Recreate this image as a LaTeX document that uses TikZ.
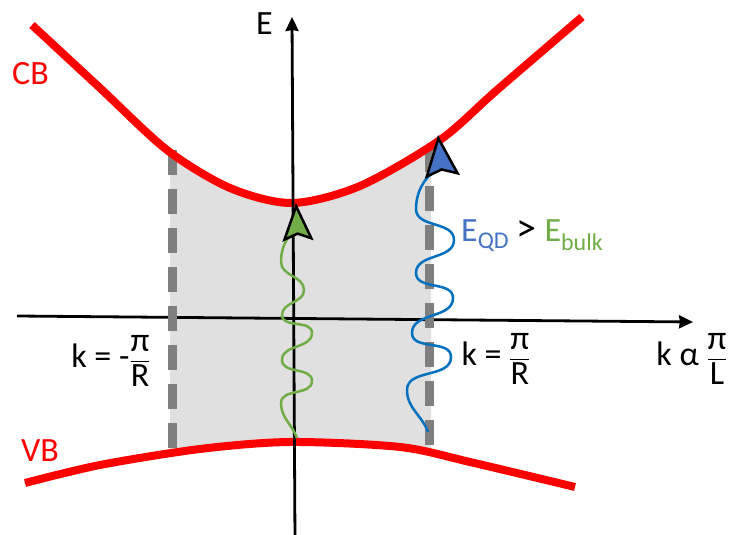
\documentclass[tikz,border=0pt]{standalone}
\usepackage{amsmath}
\usepackage{fontspec}
\setmainfont{Carlito}
\usetikzlibrary{arrows.meta}
\definecolor{bandred}{HTML}{FF0000}
\definecolor{qdblue}{HTML}{4472C4}
\definecolor{waveblue}{HTML}{0070C0}
\definecolor{qdgreen}{HTML}{70AD47}
\definecolor{edgegray}{HTML}{7F7F7F}
\tikzset{
  band/.style={draw=bandred, line width=8pt},
  axisline/.style={-{Stealth[length=14pt, width=13pt, inset=1pt]}, line width=2.8pt},
  kedge/.style={draw=edgegray, line width=9pt, dash pattern=on 25pt off 14pt},
  lbl/.style={font=\fontsize{34}{40}\selectfont, inner sep=0pt},
}

\begin{document}
\begin{tikzpicture}[
  x=1pt, y=1pt,
  photon/.style={line width=2.5pt},
  greentip/.style={-{Stealth[length=38pt, width=31pt, inset=6pt, color=black, fill=qdgreen, line width=2.5pt]}},
  bluetip/.style={-{Stealth[length=42pt, width=35pt, inset=6pt, color=black, fill=qdblue, line width=2.5pt]}}]

\useasboundingbox (0,0) rectangle (732,535);

% allowed states between the two k limits
\begin{scope}
\clip (170,0) rectangle (431,535);
\fill[black!12] plot[smooth] coordinates {(32,510) (100,447) (167,385) (230,347) (292,332) (360,349) (440,395) (497,445) (582,518)}
  -- plot[smooth] coordinates {(575,48) (470,73) (400,88) (290,93) (200,86) (100,70) (25,52)} -- cycle;
\end{scope}

% k axis
\coordinate (kstart) at (17,219);
\coordinate (kend) at (693,213);
\draw[axisline] (kstart) -- (kend);

% k = -pi/R and k = pi/R
\coordinate (ltop) at (172,385);
\coordinate (lbot) at (172,87);
\coordinate (rtop) at (429,388);
\coordinate (rbot) at (429,87);
\draw[kedge] (ltop) -- (lbot);
\draw[kedge] (rtop) -- (rbot);

% bands
\draw[band] plot[smooth] coordinates {(32,510) (100,447) (167,385) (230,347) (292,332) (360,349) (440,395) (497,445) (582,518)};
\draw[band] plot[smooth] coordinates {(25,52) (100,70) (200,86) (290,93) (400,88) (470,73) (575,48)};

% E axis
\coordinate (ebot) at (295,-5);
\coordinate (etop) at (292,518);
\draw[axisline] (ebot) -- (etop);

% photons
\coordinate (gstart) at (297,97);
\coordinate (gtip) at (296,332);
\draw[photon, draw=qdgreen, greentip] (gstart) to[out=110,in=-90] (281,132) to[out=90,in=-90] (312,154)
  to[out=90,in=-90] (282,175) to[out=90,in=-90] (312,202) to[out=90,in=-90] (282,220)
  to[out=90,in=-90] (304,245) to[out=90,in=-90] (281,273) to[out=90,in=-87] (gtip);
\coordinate (bstart) at (428,103);
\coordinate (btip) at (438,400);
\draw[photon, draw=waveblue, bluetip] (bstart) to[out=110,in=-90] (407,145) to[out=90,in=-90] (451,178)
  to[out=90,in=-90] (412,202) to[out=90,in=-90] (453,237) to[out=90,in=-90] (416,262)
  to[out=90,in=-90] (454,295) to[out=90,in=-90] (416,326) to[out=90,in=-84] (btip);

% labels
\node[lbl, anchor=base west] (elabel) at (256,500) {E};
\node[lbl, anchor=base west, text=bandred] (cblabel) at (12,450) {CB};
\node[lbl, anchor=base west, text=bandred] (vblabel) at (21,73) {VB};
\node[lbl] (kleft) at (111,174) {k = -$\dfrac{\mbox{π}}{\mbox{R}}$};
\node[lbl] (kright) at (496,176) {k = $\dfrac{\mbox{π}}{\mbox{R}}$};
\node[lbl] (kaxis) at (692,176) {k α $\dfrac{\mbox{π}}{\mbox{L}}$};
\node[lbl, anchor=base west] (ineq) at (461,293) {\textcolor{qdblue}{E\textsubscript{\fontsize{24}{28}\selectfont QD}} {\fontsize{40}{44}\selectfont >} \textcolor{qdgreen}{E\textsubscript{\fontsize{24}{28}\selectfont bulk}}};
\end{tikzpicture}
\end{document}
